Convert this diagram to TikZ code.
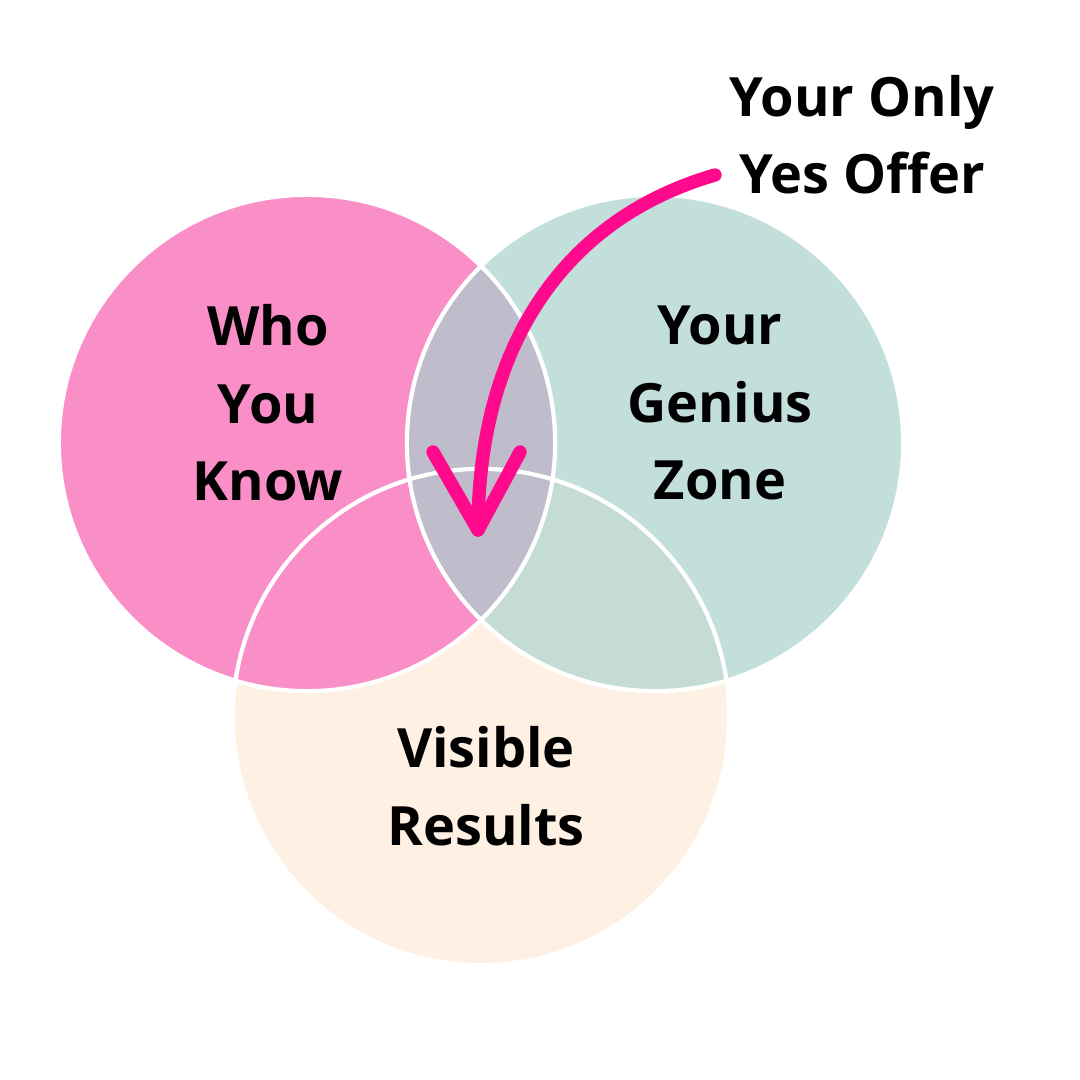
\documentclass[tikz,border=0pt]{standalone}
\usepackage{fontspec}
\setmainfont{Open Sans}

\definecolor{whopink}{HTML}{FA8EC7}
\definecolor{geniusteal}{HTML}{C3DFDC}
\definecolor{resultpeach}{HTML}{FEF0E3}
\definecolor{overlapgrey}{HTML}{BFBCCB}
\definecolor{tealpeach}{HTML}{C4DCD4}
\definecolor{offerpink}{HTML}{FF0A8C}

\begin{document}
\begin{tikzpicture}[x=0.01cm, y=-0.01cm]
        \tikzstyle{every node}=[font=\bfseries\fontsize{15.4}{22}\selectfont, align=center, text=black, inner sep=0pt]
        \tikzstyle{rim}=[draw=white, line width=1.2pt]
        \tikzstyle{pointer}=[offerpink, line width=3.8pt, line cap=round, line join=round]

        \useasboundingbox (0,0) rectangle (1080,1080);
        \fill[white] (0,0) rectangle (1080,1080);

        % the three sets
        \fill[resultpeach] (481,717) circle (2.48cm);
        \fill[whopink] (307,443) circle (2.48cm);
        \fill[geniusteal] (655,443) circle (2.48cm);
        \begin{scope}
            \clip (655,443) circle (2.48cm);
            \fill[tealpeach] (481,717) circle (2.48cm);
            \fill[overlapgrey] (307,443) circle (2.48cm);
        \end{scope}
        \draw[rim] (481,717) circle (2.48cm);
        \draw[rim] (307,443) circle (2.48cm);
        \draw[rim] (655,443) circle (2.48cm);

        \node (who) at (268,403) {Who\\You\\Know};
        \node (genius) at (720,403) {Your\\Genius\\Zone};
        \node (results) at (486,786) {Visible\\Results};
        \node (offer) at (862,135) {Your Only\\Yes Offer};

        \coordinate (tail) at (715,175);
        \coordinate (tip) at (478,530);
        \coordinate (barbl) at (433,452);
        \coordinate (barbr) at (520,452);

        \draw[pointer] (tail) .. controls (560,220) and (478,350) .. (tip);
        \draw[pointer] (barbl) -- (tip) -- (barbr);
    \end{tikzpicture}
\end{document}
